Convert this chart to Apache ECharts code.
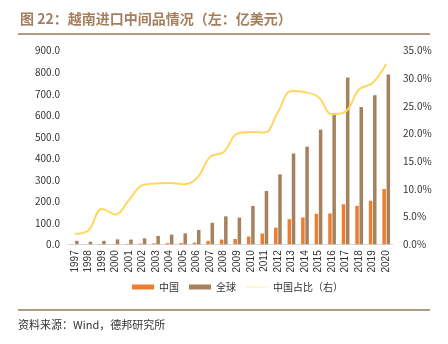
<!DOCTYPE html>
<html>
<head>
<meta charset="utf-8">
<script src="https://cdn.jsdelivr.net/npm/echarts@6/dist/echarts.min.js"></script>
<style>
  html, body { margin: 0; padding: 0; background: #fff; }
  #chart { width: 448px; height: 344px; }
</style>
</head>
<body>
<div id="chart"></div>
<script>
// 越南进口中间品：中国、全球（亿美元）及中国占比（%）
const years = ['1997','1998','1999','2000','2001','2002','2003','2004','2005','2006','2007','2008',
               '2009','2010','2011','2012','2013','2014','2015','2016','2017','2018','2019','2020'];
const chinaValues = [0.3, 0.3, 1.0, 1.2, 1.8, 3.0, 4.3, 5.0, 5.5, 8.0, 15.8, 21.7,
                     24.8, 36.1, 50.1, 77.7, 116.9, 124.9, 141.8, 143.1, 186.0, 178.6, 202.6, 257.2];
const globalValues = [16, 12, 16, 23, 22, 28, 39, 45, 51, 67, 100, 130,
                      124, 178, 248, 325, 422, 454, 533, 609, 775, 638, 693, 789];
const shareValues = [1.9, 2.5, 6.4, 5.4, 8.0, 10.7, 11.0, 11.1, 10.85, 11.9, 15.8, 16.7,
                     20.0, 20.3, 20.2, 23.9, 27.7, 27.5, 26.6, 23.5, 24.0, 28.0, 29.2, 32.6];
const leftTicks = { min: 0, max: 900, interval: 100 };
const rightTicks = { min: 0, max: 35, interval: 5 };

const cjk = '"Noto Sans CJK SC", "Noto Sans", sans-serif';
const brown = '#A5825C';
const yellow = '#FFD760';

const chart = echarts.init(document.getElementById('chart'), null, { renderer: 'canvas' });
chart.setOption({
  backgroundColor: '#ffffff',
  animation: false,
  textStyle: { fontFamily: cjk },
  grid: { left: 68, right: 55, top: 50.7, bottom: 99.7 },
  legend: {
    bottom: 47,
    left: 127,
    itemGap: 10,
    itemWidth: 22,
    itemHeight: 5,
    textStyle: { fontSize: 10, color: '#333', fontFamily: cjk },
    data: [
      { name: '中国', icon: 'rect' },
      { name: '全球', icon: 'rect' },
      { name: '中国占比（右）', icon: 'path://M0,0H22V0.1H0Z M0,2.2H22V2.8H0Z M0,4.9H22V5H0Z',
        itemStyle: { color: yellow, opacity: 1 } }
    ]
  },
  xAxis: {
    type: 'category',
    data: years,
    boundaryGap: true,
    axisLine: { show: true, lineStyle: { color: '#D9D9D9', width: 1 } },
    axisTick: { show: false },
    axisLabel: { rotate: 90, fontSize: 10, color: '#333', margin: 6, interval: 0, fontFamily: 'Liberation Sans, Arial, sans-serif' }
  },
  yAxis: [
    {
      type: 'value',
      min: leftTicks.min, max: leftTicks.max, interval: leftTicks.interval,
      axisLine: { show: false }, axisTick: { show: false }, splitLine: { show: false },
      axisLabel: { fontSize: 10, color: '#333', margin: 8, formatter: v => v.toFixed(1) }
    },
    {
      type: 'value',
      min: rightTicks.min, max: rightTicks.max, interval: rightTicks.interval,
      axisLine: { show: false }, axisTick: { show: false }, splitLine: { show: false },
      axisLabel: { fontSize: 10, color: '#333', margin: 10, formatter: v => v.toFixed(1) + '%' }
    }
  ],
  series: [
    {
      name: '中国', type: 'bar', data: chinaValues, yAxisIndex: 0,
      barWidth: 3.5, barGap: '20%',
      itemStyle: { color: '#ED7D31' }
    },
    {
      name: '全球', type: 'bar', data: globalValues, yAxisIndex: 0,
      barWidth: 3.5, barGap: '20%',
      itemStyle: { color: brown }
    },
    {
      name: '中国占比（右）', type: 'line', data: shareValues, yAxisIndex: 1,
      smooth: 0.4, symbol: 'none',
      lineStyle: { color: yellow, width: 2 },
      itemStyle: { color: yellow }
    }
  ],
  graphic: [
    {
      type: 'text', left: 20, top: 12,
      style: { text: '图 22：越南进口中间品情况（左：亿美元）', fill: '#A57E5E',
               font: 'bold 14px ' + cjk }
    },
    {
      type: 'rect', shape: { x: 18, y: 33, width: 412, height: 2 },
      style: { fill: '#B89A80' }
    },
    {
      type: 'rect', shape: { x: 18, y: 309, width: 412, height: 2 },
      style: { fill: '#B89A80' }
    },
    {
      type: 'text', left: 18, top: 319,
      style: { text: '资料来源：Wind，德邦研究所', fill: '#333', font: '11px ' + cjk }
    }
  ]
});
</script>
</body>
</html>
